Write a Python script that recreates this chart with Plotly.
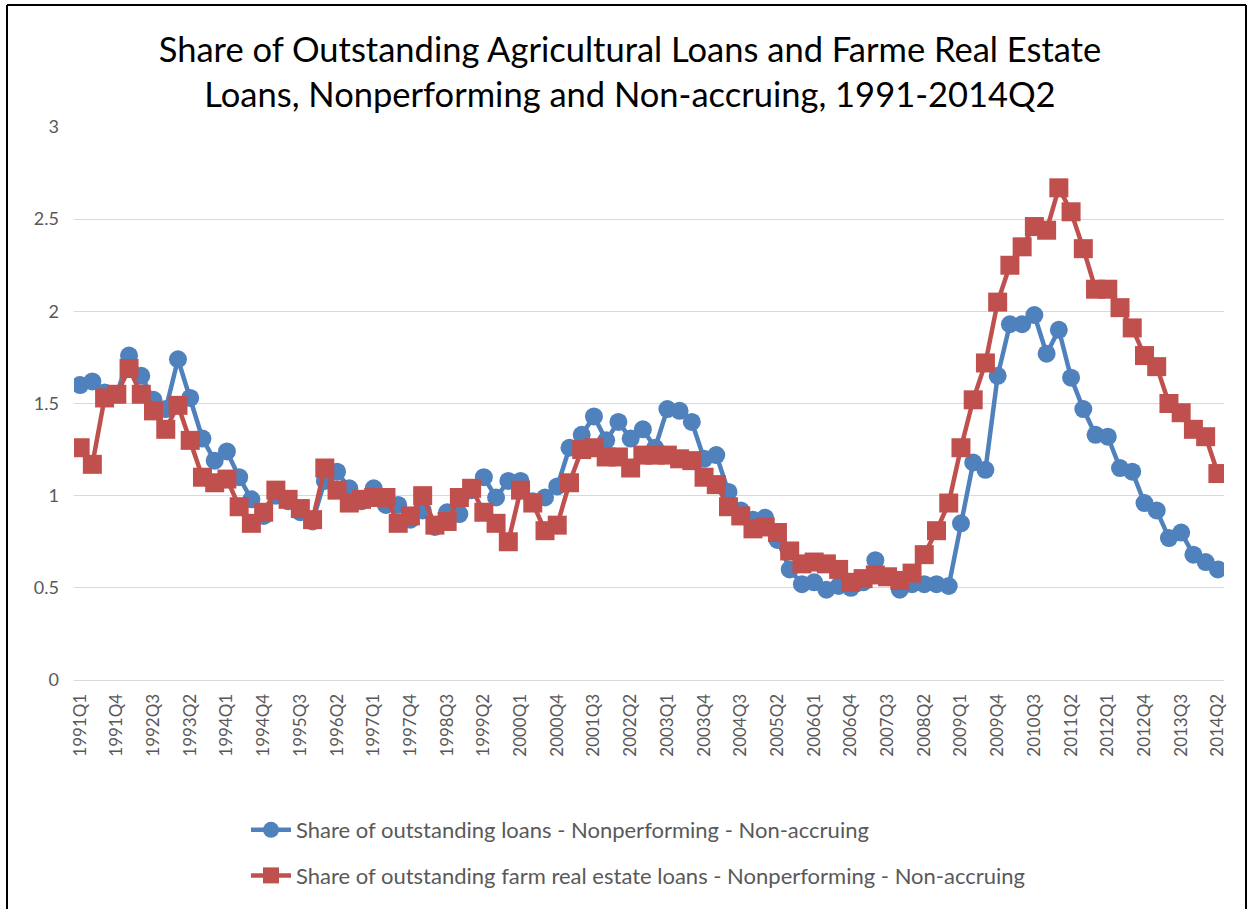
import plotly.graph_objects as go

# Quarterly categories 1991Q1 .. 2014Q2
quarters = [f"{y}Q{q}" for y in range(1991, 2015) for q in range(1, 5)][:94]

# Share of outstanding loans - Nonperforming - Non-accruing
loans_share = [
    1.60, 1.62, 1.56, 1.55, 1.76, 1.65, 1.52, 1.47, 1.74, 1.53,
    1.31, 1.19, 1.24, 1.10, 0.98, 0.89, 1.00, 0.97, 0.91, 0.86,
    1.08, 1.13, 1.04, 0.97, 1.04, 0.95, 0.95, 0.87, 0.92, 0.83,
    0.91, 0.90, 1.03, 1.10, 0.99, 1.08, 1.08, 0.97, 0.99, 1.05,
    1.26, 1.33, 1.43, 1.30, 1.40, 1.31, 1.36, 1.26, 1.47, 1.46,
    1.40, 1.20, 1.22, 1.02, 0.92, 0.87, 0.88, 0.76, 0.60, 0.52,
    0.53, 0.49, 0.51, 0.50, 0.53, 0.65, 0.56, 0.49, 0.52, 0.52,
    0.52, 0.51, 0.85, 1.18, 1.14, 1.65, 1.93, 1.93, 1.98, 1.77,
    1.90, 1.64, 1.47, 1.33, 1.32, 1.15, 1.13, 0.96, 0.92, 0.77,
    0.80, 0.68, 0.64, 0.60,
]

# Share of outstanding farm real estate loans - Nonperforming - Non-accruing
farm_re_share = [
    1.26, 1.17, 1.53, 1.55, 1.69, 1.55, 1.46, 1.36, 1.49, 1.30,
    1.10, 1.07, 1.09, 0.94, 0.85, 0.91, 1.03, 0.98, 0.93, 0.87,
    1.15, 1.03, 0.96, 0.98, 0.99, 0.99, 0.85, 0.89, 1.00, 0.84,
    0.86, 0.99, 1.04, 0.91, 0.85, 0.75, 1.03, 0.96, 0.81, 0.84,
    1.07, 1.25, 1.26, 1.21, 1.21, 1.15, 1.22, 1.22, 1.22, 1.20,
    1.19, 1.10, 1.06, 0.94, 0.89, 0.82, 0.83, 0.80, 0.70, 0.63,
    0.64, 0.63, 0.60, 0.53, 0.55, 0.57, 0.56, 0.54, 0.58, 0.68,
    0.81, 0.96, 1.26, 1.52, 1.72, 2.05, 2.25, 2.35, 2.46, 2.44,
    2.67, 2.54, 2.34, 2.12, 2.12, 2.02, 1.91, 1.76, 1.70, 1.50,
    1.45, 1.36, 1.32, 1.12,
]

series_names = [
    "Share of outstanding loans - Nonperforming - Non-accruing",
    "Share of outstanding farm real estate loans - Nonperforming - Non-accruing",
]

tick_labels = quarters[::3]

BLUE = "#4F81BD"
RED = "#C0504D"
GREY_TEXT = "#595959"
GRID = "#D9D9D9"
FONT = "Lato"
W, H = 1252, 909

fig = go.Figure()
fig.add_trace(go.Scatter(
    x=quarters, y=loans_share, name=series_names[0], mode="lines+markers",
    line=dict(color=BLUE, width=4.5),
    marker=dict(symbol="circle", size=18, color=BLUE),
    legendgroup="a",
))
fig.add_trace(go.Scatter(
    x=quarters, y=farm_re_share, name=series_names[1], mode="lines+markers",
    line=dict(color=RED, width=4.5),
    marker=dict(symbol="square", size=19, color=RED),
    legendgroup="b",
))

# frame around the chart area
L, T, R, B = 74, 127, 1224, 680
def px_x(p):
    return (p - L) / (R - L)
def px_y(p):
    return (B - p) / (B - T)

frame = dict(type="line", xref="paper", yref="paper",
             line=dict(color="black", width=2), layer="above")
shapes = [
    dict(frame, x0=px_x(7), x1=px_x(7), y0=px_y(5), y1=px_y(930)),
    dict(frame, x0=px_x(7), x1=px_x(1246), y0=px_y(5), y1=px_y(5)),
    dict(frame, x0=px_x(1246), x1=px_x(1246), y0=px_y(5), y1=px_y(930)),
]

fig.update_layout(
    width=W, height=H,
    margin=dict(l=L, r=W - R, t=T, b=H - B, autoexpand=False),
    paper_bgcolor="white", plot_bgcolor="white",
    font=dict(family=FONT, color=GREY_TEXT),
    title=dict(
        text="Share of Outstanding Agricultural Loans and Farme Real Estate<br>"
             "Loans, Nonperforming and Non-accruing, 1991-2014Q2",
        font=dict(family=FONT, size=34.5, color="black"),
        x=630 / W, xanchor="center", xref="container",
        y=1 - 62 / H, yanchor="middle", yref="container",
    ),
    xaxis=dict(
        type="category", categoryorder="array", categoryarray=quarters,
        range=[-0.5, len(quarters) - 0.5],
        tickmode="array", tickvals=tick_labels, ticktext=tick_labels,
        tickangle=-90, tickfont=dict(size=17, color=GREY_TEXT, family=FONT),
        showgrid=False, showline=True, linecolor=GRID, linewidth=1,
        ticks="", ticklabelstandoff=6, zeroline=False, automargin=False,
    ),
    yaxis=dict(
        range=[0, 3], dtick=0.5, tick0=0,
        showgrid=True, gridcolor=GRID, gridwidth=1,
        zeroline=False, showline=False, ticks="",
        tickfont=dict(size=18, color=GREY_TEXT, family=FONT),
        ticklabelstandoff=14, automargin=False,
    ),
    legend=dict(
        xref="container", yref="container",
        x=246 / W, y=1 - 809 / H, xanchor="left", yanchor="top",
        orientation="v", traceorder="grouped", tracegroupgap=14,
        font=dict(size=22, color=GREY_TEXT, family=FONT),
        itemwidth=40, bgcolor="rgba(0,0,0,0)",
    ),
    shapes=shapes,
    showlegend=True,
)

fig.write_html("out.html")
